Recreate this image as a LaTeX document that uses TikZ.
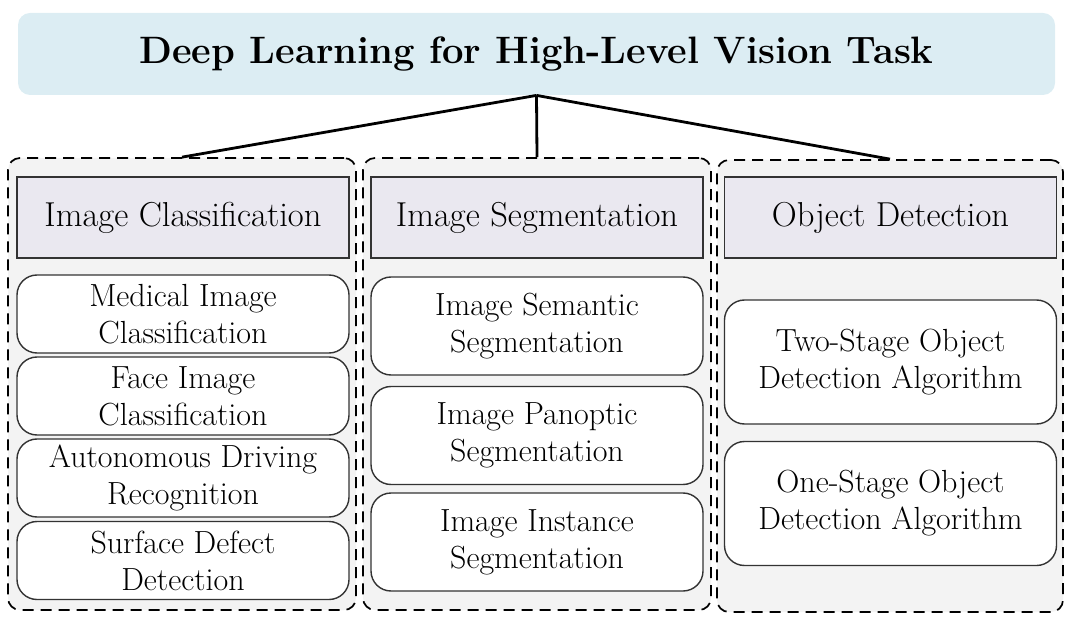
\documentclass[tikz,border=0pt]{standalone}
\usepackage{fontspec}
\definecolor{titleblue}{HTML}{DCEDF3}
\definecolor{headgray}{HTML}{EAE8F0}
\definecolor{groupgray}{HTML}{F3F3F3}
\definecolor{edgegray}{HTML}{333333}

\begin{document}
\begin{tikzpicture}[
    x=0.5pt, y=-0.5pt,
    titlebox/.style={fill=titleblue, rounded corners=6pt, minimum width=518.5pt,
                     minimum height=41pt, font=\fontsize{19.1}{22}\selectfont\bfseries},
    groupbox/.style={draw, dashed, dash pattern=on 5.5pt off 3.5pt, line width=0.85pt,
                     fill=groupgray, rounded corners=6pt, minimum height=226pt},
    headbox/.style={draw=edgegray, line width=0.9pt, fill=headgray, minimum width=166pt,
                    minimum height=40.5pt, font=\fontsize{17.3}{20}\selectfont},
    itembox/.style={draw=edgegray, line width=0.7pt, fill=white, rounded corners=10pt,
                    minimum width=166pt, align=center, inner sep=1pt,
                    font=\fontsize{16}{18.5}\selectfont},
    link/.style={line width=1.4pt}
  ]
  \useasboundingbox (0,0) rectangle (1080,630);

  % top of the tree
  \node[titlebox] (ttl) at (536.5,54) {Deep Learning for High-Level Vision Task};

  % three dashed groups
  \node[groupbox, minimum width=174pt] (grpcls) at (182,384) {};
  \node[groupbox, minimum width=174pt] (grpseg) at (537,384) {};
  \node[groupbox, minimum width=173pt] (grpdet) at (890,386) {};

  \draw[link] (ttl.south) -- (grpcls.north);
  \draw[link] (ttl.south) -- (grpseg.north);
  \draw[link] (ttl.south) -- (grpdet.north);

  % headers
  \node[headbox] (cls) at (183,217.5) {Image Classification};
  \node[headbox] (seg) at (537,217.5) {Image Segmentation};
  \node[headbox] (det) at (890.5,217.5) {Object Detection};

  % classification
  \node[itembox, minimum height=39pt] (med) at (183,314) {Medical Image\\Classification};
  \node[itembox, minimum height=39pt] (face) at (183,396) {Face Image\\Classification};
  \node[itembox, minimum height=39pt] (auto) at (183,478) {Autonomous Driving\\Recognition};
  \node[itembox, minimum height=39pt] (surf) at (183,560.5) {Surface Defect\\Detection};

  % segmentation
  \node[itembox, minimum height=49pt] (sem) at (537,326) {Image Semantic\\Segmentation};
  \node[itembox, minimum height=49pt] (pan) at (537,435.5) {Image Panoptic\\Segmentation};
  \node[itembox, minimum height=49pt] (ins) at (537,542) {Image Instance\\Segmentation};

  % detection
  \node[itembox, minimum height=62pt] (two) at (890.5,362) {Two-Stage Object\\Detection Algorithm};
  \node[itembox, minimum height=62pt] (one) at (890.5,503.5) {One-Stage Object\\Detection Algorithm};
\end{tikzpicture}
\end{document}
